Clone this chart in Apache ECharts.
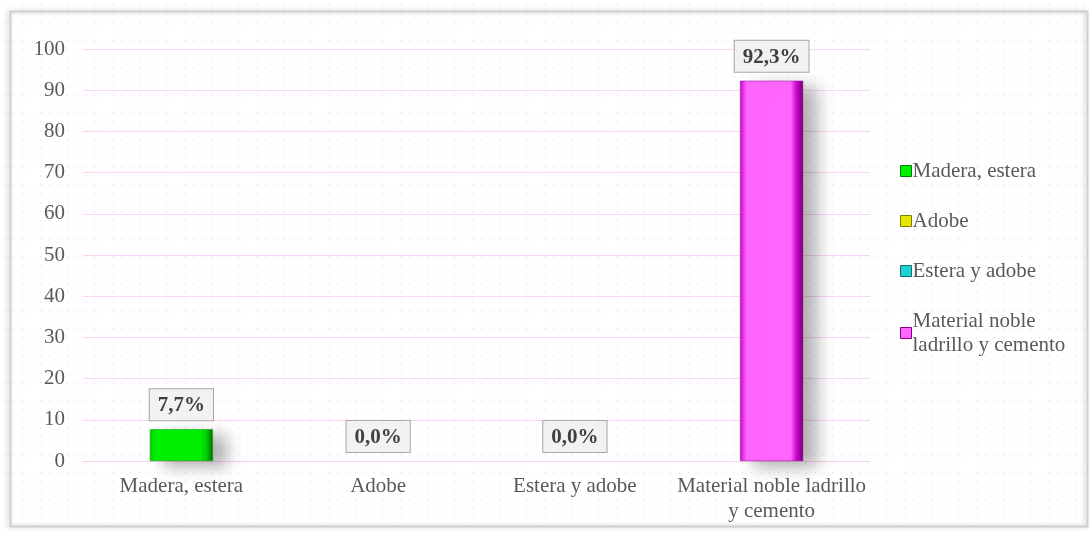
<!DOCTYPE html>
<html><head><meta charset="utf-8">
<script src="https://cdn.jsdelivr.net/npm/echarts@6/dist/echarts.min.js"></script>
<style>html,body{margin:0;padding:0;background:#fff}#c{width:1092px;height:533px}</style>
</head><body><div id="c"></div>
<script>
const categories = ['Madera, estera', 'Adobe', 'Estera y adobe', 'Material noble ladrillo y cemento'];
const seriesNames = ['Madera, estera', 'Adobe', 'Estera y adobe', 'Material noble ladrillo y cemento'];
const values = [7.7, 0.0, 0.0, 92.3];
const colors = ['#00f000', '#e6e600', '#1ed2d2', '#ff66ff'];
const yTicks = [0, 10, 20, 30, 40, 50, 60, 70, 80, 90, 100];

// dotted background pattern
const pc = document.createElement('canvas');
pc.width = 9; pc.height = 9;
const pctx = pc.getContext('2d');
pctx.fillStyle = '#ffffff'; pctx.fillRect(0,0,9,9);
pctx.fillStyle = '#fbe0f8'; pctx.fillRect(4,4,1.5,1.5);

const chart = echarts.init(document.getElementById('c'));
const font = '"Liberation Serif", "Times New Roman", serif';

function grad(c) {
  const dark = echarts.color.modifyHSL(c, null, null, 0.22);
  const mid = echarts.color.modifyHSL(c, null, null, 0.4);
  return new echarts.graphic.LinearGradient(0, 0, 1, 0, [
    {offset: 0, color: mid}, {offset: 0.1, color: c}, {offset: 0.8, color: c},
    {offset: 0.9, color: mid}, {offset: 1, color: dark}
  ]);
}

const series = seriesNames.map((n, i) => ({
  name: n,
  type: 'bar',
  stack: 'all',
  barWidth: 63,
  data: categories.map((c, j) => j === i ? values[i] : '-'),
  itemStyle: {
    color: grad(colors[i]),
    borderColor: echarts.color.modifyHSL(colors[i], null, null, 0.3),
    borderWidth: values[i] > 0 ? 0.5 : 0,
    shadowColor: 'rgba(0,0,0,0.3)', shadowBlur: 16, shadowOffsetX: 14, shadowOffsetY: 6
  },
  label: {
    show: true, position: 'top', distance: 9,
    formatter: p => p.value.toFixed(1).replace('.', ',') + '%',
    fontFamily: font, fontWeight: 'bold', fontSize: 21, color: '#404040',
    backgroundColor: '#f2f2f2', borderColor: '#a6a6a6', borderWidth: 1,
    padding: [6, 8, 4, 8]
  }
}));

chart.setOption({
  backgroundColor: {image: pc, repeat: 'repeat'},
  animation: false,
  grid: {left: 83, right: 222, top: 49, bottom: 72, containLabel: false},
  legend: {
    orient: 'vertical', left: 895, top: 154, itemGap: 26,
    itemWidth: 11, itemHeight: 11, icon: 'rect',
    data: seriesNames.map((n, i) => ({name: n, itemStyle: {color: colors[i], borderColor: echarts.color.modifyHSL(colors[i], null, null, 0.25), borderWidth: 1}})),
    formatter: n => n === 'Material noble ladrillo y cemento' ? 'Material noble\nladrillo y cemento' : n,
    textStyle: {fontFamily: font, fontSize: 21, color: '#595959', lineHeight: 24, padding: [0,0,0,-4]}
  },
  xAxis: {
    type: 'category', data: categories,
    axisLine: {show: true, lineStyle: {color: '#f5d0f0'}},
    axisTick: {show: false},
    axisLabel: {
      interval: 0, hideOverlap: false,
      fontFamily: font, fontSize: 21, color: '#595959', margin: 13, lineHeight: 25,
      formatter: v => v === 'Material noble ladrillo y cemento' ? 'Material noble ladrillo\ny cemento' : v
    }
  },
  yAxis: {
    type: 'value', min: 0, max: 100, interval: 10,
    axisLine: {show: false}, axisTick: {show: false},
    axisLabel: {fontFamily: font, fontSize: 21, color: '#595959', margin: 18,
      formatter: v => yTicks.includes(v) ? String(v) : ''},
    splitLine: {lineStyle: {color: '#f9d4f4', width: 1}}
  },
  graphic: [{
    type: 'rect', left: 8, top: 9, shape: {width: 1077, height: 515},
    style: {fill: 'none', stroke: '#d0d0d0', lineWidth: 2,
      shadowColor: 'rgba(0,0,0,0.2)', shadowBlur: 4, shadowOffsetX: -2},
    silent: true
  }],
  series: series
});
</script></body></html>
